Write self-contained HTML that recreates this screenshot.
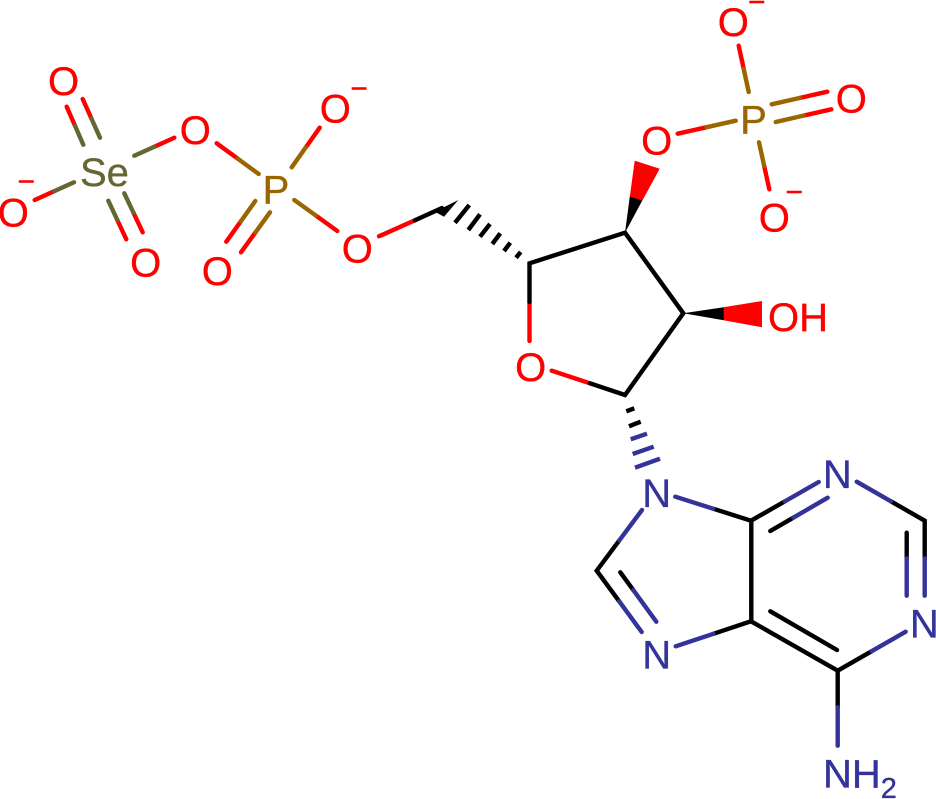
<!DOCTYPE html>
<html><head><meta charset="utf-8"><title>Molecule</title>
<style>html,body{margin:0;padding:0;background:#fff}svg{display:block}text{font-family:"Liberation Sans",sans-serif;font-size:40px;stroke-width:.35px}.m{font-size:30px;fill:#f00;stroke:#f00}</style></head>
<body>
<svg xmlns="http://www.w3.org/2000/svg" width="936" height="799" viewBox="0 0 936 799">
<rect width="936" height="799" fill="#fff"/>
<g stroke-width="4.4" stroke-linecap="round" fill="none">
<g stroke="#f00">
<path d="M66.7 106.7L75 125.7M82.7 99L91.35 118.35M174.3 137.7L154.3 146.7M34.7 200L54.35 191.15M142.7 232.3L133.5 212.8M126.3 239.3L117.3 220"/>
<path d="M216.7 143.3L237.7 158.65M226.3 241.7L240.8 221.35M241 252.3L255.5 232.3M319.7 127.7L305.7 147.5M337.3 231L315.8 215.5M379 236.3L415 220.3"/>
<path d="M738.7 45.7L743.7 68.85M827.3 91.7L799.5 98M831.3 109.3L803.5 115.65M677.7 133.7L706.7 127.2M769.3 189.3L764.15 165.8M529.5 341L529.5 302M551.7 370.7L590 383.3"/>
</g>
<g stroke="#666633">
<path d="M83.3 144.7L75 125.7M100 137.7L91.35 118.35M134.3 155.7L154.3 146.7M74 182.3L54.35 191.15M124.3 193.3L133.5 212.8M108.3 200.7L117.3 220"/>
</g>
<g stroke="#996600">
<path d="M258.7 174L237.7 158.65M255.3 201L240.8 221.35M270 212.3L255.5 232.3M291.7 167.3L305.7 147.5M294.3 200L315.8 215.5"/>
<path d="M748.7 92L743.7 68.85M771.7 104.3L799.5 98M775.7 122L803.5 115.65M735.7 120.7L706.7 127.2M759 142.3L764.15 165.8"/>
</g>
<g stroke="#000">
<path d="M415 220.3L442 208M529.5 302L529.5 263.3L625 232.7L683.3 313.3L625 395L590 383.3"/>
<path d="M751.3 520.7L751.3 621.3M619.35 540.35L596.7 570.7L619.2 601.35M633.3 590.1L620.3 572.3M713.4 633.8L751 621.3L837.7 670.7L871.7 651.2M713.2 508.7L751 520.7L784.85 501.35M793.3 517.7L770.3 531M890.7 501.2L924.7 520.7L924.7 558.3M906.7 532.7L906.7 558.3M770.3 611.3L837 650M837.7 670.7L837.7 707.3"/>
</g>
<g stroke="#333399">
<path d="M642 510L619.35 540.35M641.7 632L619.2 601.35M656.3 621.7L633.3 590.1M675.7 646.3L713.4 633.8M675.3 496.7L713.2 508.7M818.7 482L784.85 501.35M827.7 497.7L793.3 517.7M856.7 481.7L890.7 501.2M924.7 595.7L924.7 558.3M906.7 595.7L906.7 558.3M905.7 631.7L871.7 651.2M837.7 745.7L837.7 707.3"/>
</g>
<g stroke="#000" stroke-linecap="butt">
<path d="M455 222.7L469.3 205M468.3 230L480 214.3M480 236.7L490 224M492.3 244L500.3 233.3M504 251L510.3 242.7M516 257.7L520.7 252"/>
<path d="M626.3 411.3L634.3 408.3M629 426.3L640.7 421.7"/>
</g>
<g stroke="#333399" stroke-linecap="butt">
<path d="M630.7 439.3L647 433.7M632.7 454L653.7 446.7M635 467.7L660 458.7"/>
</g>
</g>
<polygon fill="#000" points="458.3,200 435,211.7 444,216.7"/>
<polygon fill="#f00" points="634.7,160.7 659.7,168.7 642.3,200.7 629.8,196.7"/>
<polygon fill="#000" points="625,232.7 629.8,196.5 642.3,200.5"/>
<polygon fill="#f00" points="762,301 762,327.3 723.5,320.3 723.5,307.2"/>
<polygon fill="#000" points="683.3,313.3 723.7,307.2 723.7,320.3"/>
<g fill="#f00" stroke="#f00" text-anchor="middle">
<text x="63.5" y="95">O</text>
<text x="195.3" y="144">O</text>
<text x="13.3" y="226.5">O</text>
<text x="145.7" y="276.5">O</text>
<text x="217.3" y="285">O</text>
<text x="335.3" y="122.5">O</text>
<text x="357.3" y="262.5">O</text>
<text x="733.3" y="36">O</text>
<text x="851.3" y="112.5">O</text>
<text x="656.7" y="154.5">O</text>
<text x="774.3" y="231.5">O</text>
<text x="530.7" y="381">O</text>
</g>
<text x="768" y="331" fill="#f00" stroke="#f00">OH</text>
<g text-anchor="middle">
<text class="m" x="26.3" y="191.5">−</text>
<text class="m" x="359.2" y="98.5">−</text>
<text class="m" x="756.8" y="12">−</text>
<text class="m" x="794.3" y="202">−</text>
</g>
<text x="80" y="186" fill="#666633" stroke="#666633">Se</text>
<g fill="#996600" stroke="#996600" text-anchor="middle">
<text x="276" y="203.5">P</text>
<text x="753.5" y="133.5">P</text>
</g>
<g fill="#333399" stroke="#333399" text-anchor="middle">
<text x="656.7" y="507">N</text>
<text x="656.7" y="668.5">N</text>
<text x="837.3" y="488">N</text>
<text x="924.3" y="637.5">N</text>
</g>
<text x="823" y="787.5" fill="#333399" stroke="#333399">NH<tspan font-size="29" dy="10.5">2</tspan></text>
</svg>
</body></html>
